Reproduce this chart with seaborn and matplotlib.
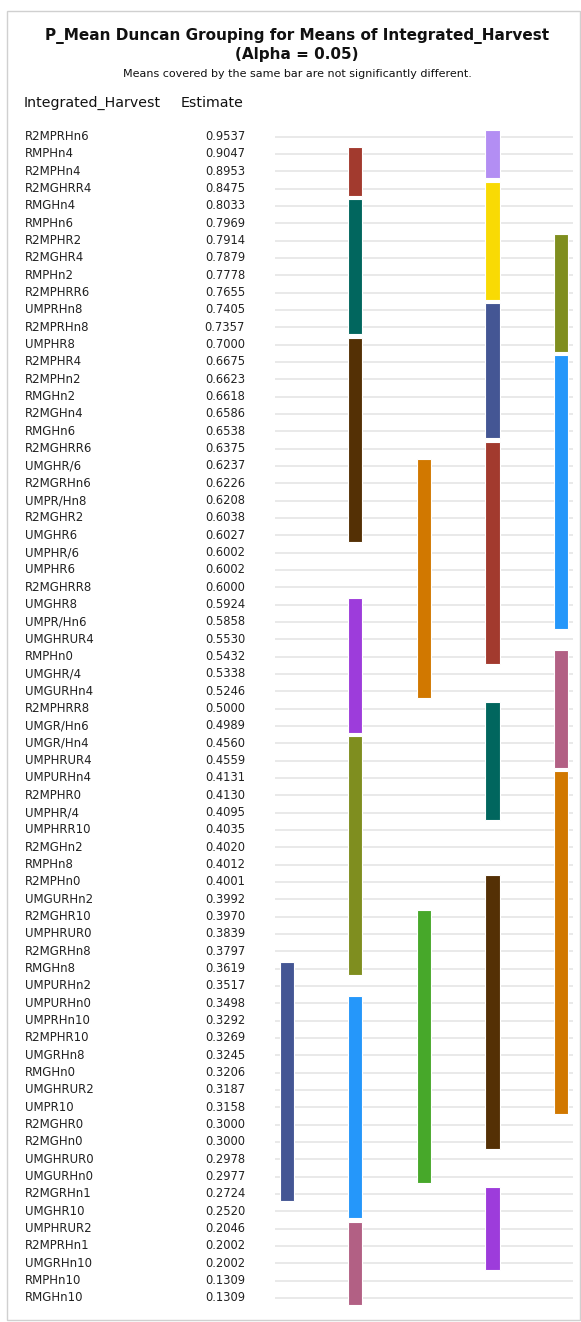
import matplotlib
matplotlib.use("Agg")
import matplotlib.pyplot as plt
import pandas as pd
import seaborn as sns
from matplotlib.patches import Rectangle
from matplotlib.transforms import blended_transform_factory

# 処理区と推定値（上から順）
names = [
    "R2MPRHn6", "RMPHn4", "R2MPHn4", "R2MGHRR4", "RMGHn4", "RMPHn6", "R2MPHR2",
    "R2MGHR4", "RMPHn2", "R2MPHRR6", "UMPRHn8", "R2MPRHn8", "UMPHR8", "R2MPHR4",
    "R2MPHn2", "RMGHn2", "R2MGHn4", "RMGHn6", "R2MGHRR6", "UMGHR/6", "R2MGRHn6",
    "UMPR/Hn8", "R2MGHR2", "UMGHR6", "UMPHR/6", "UMPHR6", "R2MGHRR8", "UMGHR8",
    "UMPR/Hn6", "UMGHRUR4", "RMPHn0", "UMGHR/4", "UMGURHn4", "R2MPHRR8",
    "UMGR/Hn6", "UMGR/Hn4", "UMPHRUR4", "UMPURHn4", "R2MPHR0", "UMPHR/4",
    "UMPHRR10", "R2MGHn2", "RMPHn8", "R2MPHn0", "UMGURHn2", "R2MGHR10",
    "UMPHRUR0", "R2MGRHn8", "RMGHn8", "UMPURHn2", "UMPURHn0", "UMPRHn10",
    "R2MPHR10", "UMGRHn8", "RMGHn0", "UMGHRUR2", "UMPR10", "R2MGHR0", "R2MGHn0",
    "UMGHRUR0", "UMGURHn0", "R2MGRHn1", "UMGHR10", "UMPHRUR2", "R2MPRHn1",
    "UMGRHn10", "RMPHn10", "RMGHn10",
]
estimates = [
    0.9537, 0.9047, 0.8953, 0.8475, 0.8033, 0.7969, 0.7914, 0.7879, 0.7778,
    0.7655, 0.7405, 0.7357, 0.7000, 0.6675, 0.6623, 0.6618, 0.6586, 0.6538,
    0.6375, 0.6237, 0.6226, 0.6208, 0.6038, 0.6027, 0.6002, 0.6002, 0.6000,
    0.5924, 0.5858, 0.5530, 0.5432, 0.5338, 0.5246, 0.5000, 0.4989, 0.4560,
    0.4559, 0.4131, 0.4130, 0.4095, 0.4035, 0.4020, 0.4012, 0.4001, 0.3992,
    0.3970, 0.3839, 0.3797, 0.3619, 0.3517, 0.3498, 0.3292, 0.3269, 0.3245,
    0.3206, 0.3187, 0.3158, 0.3000, 0.3000, 0.2978, 0.2977, 0.2724, 0.2520,
    0.2046, 0.2002, 0.2002, 0.1309, 0.1309,
]

# Duncan グループ（列番号、最初の行、最後の行）
group_column = [4, 2, 4, 2, 5, 4, 2, 5, 4, 3, 2, 5, 4, 2, 5, 4, 3, 1, 2, 4, 2]
group_first = [1, 2, 4, 5, 7, 11, 13, 14, 19, 20, 28, 31, 34, 36, 38, 44, 46, 49, 51, 62, 64]
group_last = [3, 4, 10, 12, 13, 18, 24, 29, 31, 33, 35, 37, 40, 49, 57, 59, 61, 62, 63, 66, 68]

# 色（SAS HTMLBlue 風）
group_colors = [
    "#B38EF3", "#A23A2E", "#F9DA04", "#01665E", "#7F8E1F", "#445694", "#543005",
    "#2597FA", "#A23A2E", "#D17800", "#9D3CDB", "#B26084", "#01665E", "#7F8E1F",
    "#D17800", "#543005", "#47A82A", "#445694", "#2597FA", "#9D3CDB", "#B26084",
]

groups = pd.DataFrame({"column": group_column, "first": group_first, "last": group_last})
groups["bottom"] = groups["first"] - 0.4
groups["height"] = groups["last"] - groups["first"] + 0.8

sns.set_theme(style="white")
plt.rcParams["font.family"] = ["DejaVu Sans"]

W, H = 581, 1322
fig = plt.figure(figsize=(W / 100, H / 100), dpi=100)

# 外枠
fig.patches.append(Rectangle((7 / W, 1 - 1320 / H), 573 / W, (1320 - 11) / H,
                             transform=fig.transFigure, fill=False,
                             edgecolor="#d0d0d0", linewidth=1.0))

n = len(names)
ax = fig.add_axes([275 / W, 1 - 1306.5 / H, 298 / W, (1306.5 - 128.0) / H])
ax.set_ylim(n + 0.5, 0.5)
ax.set_xlim(0.829, 5.175)

rows = list(range(1, n + 1))
ax.hlines(rows, 0.829, 5.175, color="#e3e3e3", linewidth=1.1, zorder=1)
ax.bar(groups["column"], groups["height"], bottom=groups["bottom"], width=0.21,
       color=group_colors, edgecolor="white", linewidth=0.8, zorder=2)

ax.set_xticks([])
ax.set_yticks([])
sns.despine(ax=ax, left=True, bottom=True)

trans = blended_transform_factory(fig.transFigure, ax.transData)
for i, (name, est) in enumerate(zip(names, estimates)):
    ax.text(25 / W, i + 1, name, transform=trans, ha="left", va="center",
            fontsize=8.5, color="#222222")
    ax.text(245 / W, i + 1, f"{est:.4f}", transform=trans, ha="right",
            va="center", fontsize=8.3, color="#222222")

fig.text(24 / W, 1 - 103 / H, "Integrated_Harvest", ha="left", va="center",
         fontsize=10.2, color="#111111")
fig.text(244 / W, 1 - 103 / H, "Estimate", ha="right", va="center",
         fontsize=10.2, color="#111111")

fig.text(297 / W, 1 - 36 / H, "P_Mean Duncan Grouping for Means of Integrated_Harvest",
         ha="center", va="center", fontsize=11, fontweight="bold", color="#111111")
fig.text(297 / W, 1 - 55 / H, "(Alpha = 0.05)", ha="center", va="center",
         fontsize=11, fontweight="bold", color="#111111")
fig.text(297 / W, 1 - 74 / H, "Means covered by the same bar are not significantly different.",
         ha="center", va="center", fontsize=8, color="#111111")

fig.savefig("out.png", dpi=100, facecolor="white")
